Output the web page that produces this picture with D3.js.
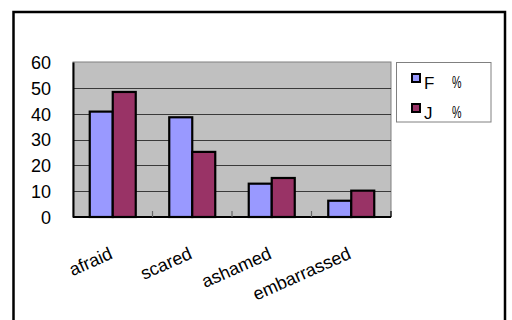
<!DOCTYPE html>
<html><head><meta charset="utf-8">
<script src="https://cdn.jsdelivr.net/npm/d3@7/dist/d3.min.js"></script>
<style>body{margin:0;background:#fff}svg{display:block}text{font-family:"Liberation Sans",Arial,sans-serif}</style>
</head><body><svg id="c" width="512" height="320"></svg>
<script>
const categories = ["afraid", "scared", "ashamed", "embarrassed"];
const seriesNames = ["F", "J"];
const seriesUnit = "%";
const valuesF = [40.8, 38.6, 12.9, 6.3];
const valuesJ = [48.4, 25.2, 15.1, 10.2];
const yTicks = [0, 10, 20, 30, 40, 50, 60];
const colors = ["#9999FF", "#993366"];

const svg = d3.select("#c");
// outer frame
svg.append("rect").attr("x", 13.5).attr("y", 12).attr("width", 491.5).attr("height", 330)
  .attr("fill", "#fff").attr("stroke", "#000").attr("stroke-width", 2.5);

const L = 73, R = 391, T = 62, B = 217;
const x0 = d3.scaleBand().domain(categories).range([L, R]).paddingInner(0).paddingOuter(0);
const x1 = d3.scaleBand().domain(seriesNames).range([0, 46]);
const y = d3.scaleLinear().domain([0, 60]).range([B, T]);
const bandPad = (x0.bandwidth() - 46) / 2;

svg.append("rect").attr("x", L).attr("y", T).attr("width", R - L).attr("height", B - T)
  .attr("fill", "#C0C0C0").attr("stroke", "#808080").attr("stroke-width", 1);

// grid
svg.append("g").selectAll("line").data(yTicks.filter(d => d > 0 && d < 60)).join("line")
  .attr("x1", L).attr("x2", R).attr("y1", d => Math.round(y(d)) + 0.5).attr("y2", d => Math.round(y(d)) + 0.5)
  .attr("stroke", "#3a3a3a").attr("stroke-width", 1);

// y axis
const yAxis = svg.append("g").attr("transform", `translate(${L},0)`)
  .call(d3.axisLeft(y).tickValues(yTicks).tickSize(0).tickPadding(22));
yAxis.select(".domain").attr("stroke", "#000").attr("stroke-width", 2);
yAxis.selectAll("text").attr("font-size", 18).attr("fill", "#000").attr("dy", "0.36em");

// bars
const data = categories.map((c, i) => ({c, vals: [valuesF[i], valuesJ[i]]}));
const g = svg.append("g");
data.forEach(d => {
  d.vals.forEach((v, j) => {
    g.append("rect")
      .attr("x", x0(d.c) + bandPad + x1(seriesNames[j]))
      .attr("y", y(v))
      .attr("width", x1.bandwidth())
      .attr("height", y(0) - y(v))
      .attr("fill", colors[j]).attr("stroke", "#000").attr("stroke-width", 2.2);
  });
});

// x axis
const xAxis = svg.append("g").attr("transform", `translate(0,${B})`);
xAxis.append("line").attr("x1", L).attr("x2", R).attr("stroke", "#000").attr("stroke-width", 2);
xAxis.selectAll(".tk").data(categories.slice(1).map(c => x0(c)).concat([R])).join("line")
  .attr("x1", d => d).attr("x2", d => d).attr("y1", 0).attr("y2", -6)
  .attr("stroke", (d, i, n) => i === n.length - 1 ? "#000" : "#666").attr("stroke-width", 1.2);
svg.append("g").selectAll("text").data(categories).join("text")
  .attr("transform", d => `translate(${x0(d) + x0.bandwidth() / 2 + 1},258) rotate(-24)`)
  .attr("text-anchor", "end").attr("font-size", 18).attr("fill", "#000").text(d => d);

// legend
const lg = svg.append("g");
lg.append("rect").attr("x", 396.5).attr("y", 62.5).attr("width", 94.5).attr("height", 59.5)
  .attr("fill", "#fff").attr("stroke", "#808080").attr("stroke-width", 1);
seriesNames.forEach((s, i) => {
  const yy = 73 + i * 30;
  lg.append("rect").attr("x", 412).attr("y", yy + 1).attr("width", 8).attr("height", 8)
    .attr("fill", colors[i]).attr("stroke", "#000").attr("stroke-width", 2);
  lg.append("text").attr("x", 424).attr("y", yy + 16).attr("font-size", 17).attr("fill", "#000").text(s);
  lg.append("text").attr("x", 452).attr("y", yy + 15).attr("font-size", 17).attr("fill", "#000")
    .attr("textLength", 9.5).attr("lengthAdjust", "spacingAndGlyphs").text(seriesUnit);
});
</script></body></html>
